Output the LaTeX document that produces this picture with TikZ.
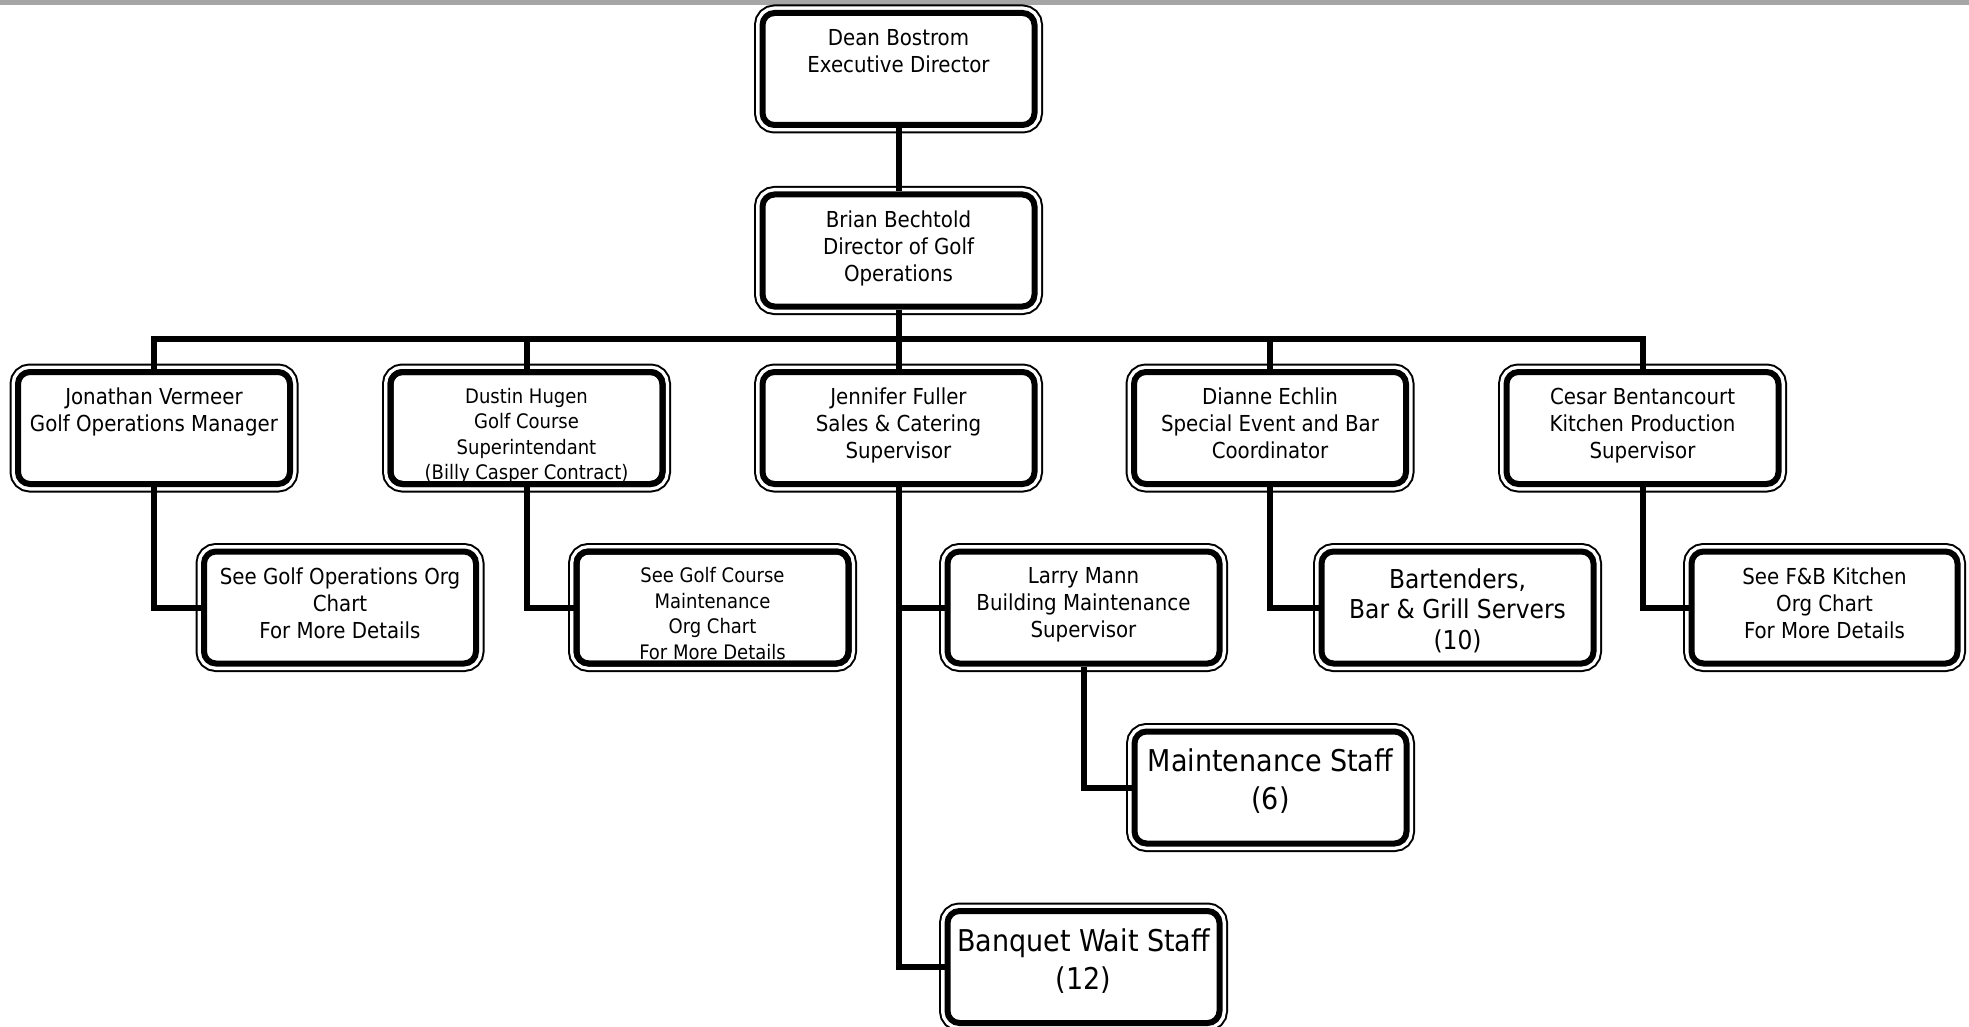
\documentclass[tikz,border=0pt]{standalone}
\usepackage{fontspec}
\setmainfont{DejaVu Sans Condensed}
\begin{document}
\begin{tikzpicture}[x=1pt,y=-1pt,
  % rounded box: thin outer rule, white gap, heavy inner rule
  orgbox/.style={draw=black, fill=white, line width=6pt, rounded corners=12pt,
    minimum width=272pt, minimum height=112pt, inner sep=0pt,
    preaction={draw=black, line width=17pt},
    preaction={draw=white, line width=13pt}},
  heavyrule/.style={draw=black, line width=6pt, rounded corners=12pt},
  txt/.style={anchor=north, align=center, inner sep=0pt, font=\fontsize{22}{27}\selectfont},
  txtsmall/.style={txt, font=\fontsize{20}{25.5}\selectfont},
  txtmid/.style={txt, font=\fontsize{26}{30.5}\selectfont},
  txtbig/.style={txt, font=\fontsize{30}{38}\selectfont},
  link/.style={draw=black, line width=6pt}]
\useasboundingbox (0,0) rectangle (1969,1027);
\clip (0,0) rectangle (1969,1027);
\fill[gray!70] (0,0) rectangle (1969,5);

% boxes
\node[orgbox] (dean)     at (898.5,69)    {};
\node[orgbox] (brian)    at (898.5,250.5) {};
\node[orgbox] (jonathan) at (154,428)     {};
\node[orgbox] (dustin)   at (526.5,428)   {};
\node[orgbox] (jennifer) at (898.5,428)   {};
\node[orgbox] (dianne)   at (1270,428)    {};
\node[orgbox] (cesar)    at (1642.5,428)  {};
\node[orgbox] (seeops)   at (340,607.5)   {};
\node[orgbox] (seegc)    at (712.5,607.5) {};
\node[orgbox] (larry)    at (1083.5,607.5){};
\node[orgbox] (bar)      at (1457.5,607.5){};
\node[orgbox, minimum width=266pt] (seefb) at (1824.5,607.5) {};
\node[orgbox] (maint)    at (1270.5,787.5){};
\node[orgbox] (banquet)  at (1083.5,967)  {};

% connectors
\coordinate (bus) at (0,339);
\draw[link] (dean) -- (brian);
\draw[link] (brian) -- (brian |- bus);
\draw[link] (jonathan.north) |- (bus -| cesar.north) -- (cesar.north);
\draw[link] (dustin.north) -- (dustin.north |- bus);
\draw[link] (jennifer.north) -- (jennifer.north |- bus);
\draw[link] (dianne.north) -- (dianne.north |- bus);
\draw[link] (jonathan.south) |- (seeops.west);
\draw[link] (dustin.south) |- (seegc.west);
\draw[link] (jennifer.south) |- (banquet.west);
\draw[link] (jennifer.south |- larry.west) -- (larry.west);
\draw[link] (larry.south) |- (maint.west);
\draw[link] (dianne.south) |- (bar.west);
\draw[link] (cesar.south) |- (seefb.west);

% box texts
\node[txt] (dean-t) at ([yshift=-19pt]dean.north) {Dean Bostrom\\Executive Director};
\node[txt] (brian-t) at ([yshift=-19pt]brian.north) {Brian Bechtold\\Director of Golf\\Operations};
\node[txt] (jonathan-t) at ([yshift=-19pt]jonathan.north) {Jonathan Vermeer\\Golf Operations Manager};
\node[txtsmall] (dustin-t) at ([yshift=-19pt]dustin.north) {Dustin Hugen\\Golf Course\\Superintendant\\(Billy Casper Contract)};
\node[txt] (jennifer-t) at ([yshift=-19pt]jennifer.north) {Jennifer Fuller\\Sales \& Catering\\Supervisor};
\node[txt] (dianne-t) at ([yshift=-19pt]dianne.north) {Dianne Echlin\\Special Event and Bar\\Coordinator};
\node[txt] (cesar-t) at ([yshift=-19pt]cesar.north) {Cesar Bentancourt\\Kitchen Production\\Supervisor};
\node[txt] (seeops-t) at ([yshift=-19pt]seeops.north) {See Golf Operations Org\\Chart\\For More Details};
\node[txtsmall] (seegc-t) at ([yshift=-19pt]seegc.north) {See Golf Course\\Maintenance\\Org Chart\\For More Details};
\node[txt] (larry-t) at ([yshift=-19pt]larry.north) {Larry Mann\\Building Maintenance\\Supervisor};
\node[txtmid] (bar-t) at ([yshift=-20pt]bar.north) {Bartenders,\\Bar \& Grill Servers\\(10)};
\node[txt] (seefb-t) at ([yshift=-19pt]seefb.north) {See F\&B Kitchen\\Org Chart\\For More Details};
\node[txtbig] (maint-t) at ([yshift=-20pt]maint.north) {Maintenance Staff\\(6)};
\node[txtbig] (banquet-t) at ([yshift=-20pt]banquet.north) {Banquet Wait Staff\\(12)};

% heavy rules redrawn over the text, so lines that run past a box are cut off
\draw[heavyrule] ([shift={(3pt,3pt)}]dustin.south west) rectangle ([shift={(-3pt,-3pt)}]dustin.north east);
\draw[heavyrule] ([shift={(3pt,3pt)}]seegc.south west) rectangle ([shift={(-3pt,-3pt)}]seegc.north east);
\end{tikzpicture}
\end{document}
